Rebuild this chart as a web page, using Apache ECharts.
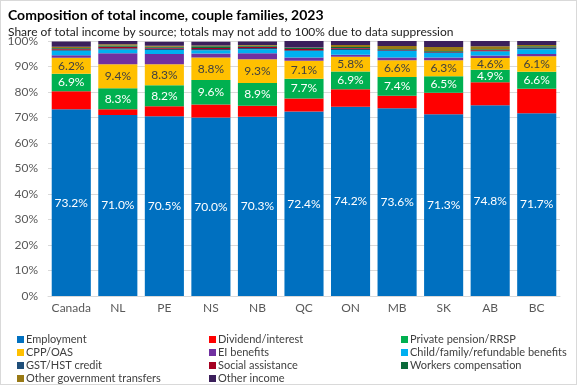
<!DOCTYPE html>
<html>
<head>
<meta charset="utf-8">
<script src="https://cdn.jsdelivr.net/npm/echarts@6/dist/echarts.min.js"></script>
<style>
html,body{margin:0;padding:0;background:#fff;}
#c{width:577px;height:385px;box-sizing:border-box;border:1px solid #d9d9d9;}
</style>
</head>
<body>
<div id="c"></div>
<script>
const categories = ['Canada','NL','PE','NS','NB','QC','ON','MB','SK','AB','BC'];
const employment = [73.2,71.0,70.5,70.0,70.3,72.4,74.2,73.6,71.3,74.8,71.7];
const dividend   = [7.1,2.2,3.9,5.1,4.3,5.1,6.9,4.9,8.4,9.0,9.6];
const pension    = [6.9,8.3,8.2,9.6,8.9,7.7,6.9,7.4,6.5,4.9,6.6];
const cppOas     = [6.2,9.4,8.3,8.8,9.3,7.1,5.8,6.6,6.3,4.6,6.1];
const eiBenefits = [1.0,4.3,4.0,1.6,2.4,1.2,0.8,1.0,1.0,1.0,0.9];
const childBen   = [1.8,1.5,1.6,1.3,1.6,2.6,1.9,2.6,1.8,1.6,1.9];
const gstCredit  = [0.4,0.5,0.5,0.5,0.5,0.3,0.5,0.3,0.3,0.3,0.5];
const socialAss  = [0.4,0.5,0.4,0.4,0.4,0.5,0.3,0.2,0.2,0.3,0.2];
const workersComp= [0.3,0.5,0.3,0.6,0.4,0.5,0.3,0.3,0.3,0.3,0.4];
const otherGov   = [0.4,0.5,0.4,0.3,0.3,0.1,0.8,1.1,1.5,1.1,0.5];
const otherInc   = [2.1,1.3,1.6,1.5,1.4,2.5,1.6,2.0,2.4,2.1,1.6];
const yTicks = ['0%','10%','20%','30%','40%','50%','60%','70%','80%','90%','100%'];

const FONT = "Lato,'Roboto',sans-serif";
const seriesDefs = [
  {name:'Employment', data:employment, color:'#0070C0', label:'#ffffff'},
  {name:'Dividend/interest', data:dividend, color:'#FF0000'},
  {name:'Private pension/RRSP', data:pension, color:'#00B050', label:'#ffffff'},
  {name:'CPP/OAS', data:cppOas, color:'#FFC000', label:'#404040'},
  {name:'EI benefits', data:eiBenefits, color:'#7030A0'},
  {name:'Child/family/refundable benefits', data:childBen, color:'#00B0F0'},
  {name:'GST/HST credit', data:gstCredit, color:'#1F4E79'},
  {name:'Social assistance', data:socialAss, color:'#A50021'},
  {name:'Workers compensation', data:workersComp, color:'#0B6B3A'},
  {name:'Other government transfers', data:otherGov, color:'#997A15'},
  {name:'Other income', data:otherInc, color:'#3B1F5B'}
];

const series = seriesDefs.map(d => ({
  name: d.name,
  type: 'bar',
  stack: 'total',
  barCategoryGap: '16%',
  data: d.data,
  itemStyle: {color: d.color},
  label: d.label ? {
    show: true, position: 'inside', color: d.label,
    fontFamily: FONT, fontSize: 12,
    formatter: p => p.value.toFixed(1) + '%'
  } : {show:false},
  emphasis: {disabled: true}
}));

// legend layout: 3 columns x 4 rows
const legendOrder = [
  ['Employment','CPP/OAS','GST/HST credit','Other government transfers'],
  ['Dividend/interest','EI benefits','Social assistance','Other income'],
  ['Private pension/RRSP','Child/family/refundable benefits','Workers compensation']
];
const colLeft = [16, 208, 400];
const legends = [];
legendOrder.forEach((col, ci) => {
  col.forEach((nm, ri) => {
    legends.push({
      data: [nm], left: colLeft[ci], top: 333 + ri * 13,
      itemWidth: 7, itemHeight: 7, itemGap: 0, icon: 'rect',
      textStyle: {fontFamily: FONT, fontSize: 11, color:'#404040', padding:[0,0,0,-3]},
      selectedMode: false, padding: 0
    });
  });
});

const chart = echarts.init(document.getElementById('c'), null, {renderer:'canvas'});
chart.setOption({
  animation: false,
  title: [
    {text:'Composition of total income, couple families, 2023', left: 2, top: 2,
     textStyle:{fontFamily:FONT, fontSize:14, fontWeight:'bold', color:'#000'}},
    {text:'Share of total income by source; totals may not add to 100% due to data suppression', left: 2, top: 20,
     textStyle:{fontFamily:FONT, fontSize:12, fontWeight:'normal', color:'#222'}}
  ],
  legend: legends,
  grid: {left: 47, right: 16, top: 40, bottom: 88, containLabel: false},
  xAxis: {
    type:'category', data: categories,
    axisLine:{lineStyle:{color:'#d9d9d9'}}, axisTick:{show:false},
    axisLabel:{fontFamily:FONT, fontSize:12, color:'#595959', margin:6, interval:0}
  },
  yAxis: {
    type:'value', min:0, max:100, interval:10,
    axisLabel:{fontFamily:FONT, fontSize:12, color:'#595959', margin:10,
      formatter: v => yTicks[Math.round(v/10)]},
    splitLine:{lineStyle:{color:'#d9d9d9'}},
    axisLine:{show:false}, axisTick:{show:false}
  },
  series: series
});
</script>
</body>
</html>
